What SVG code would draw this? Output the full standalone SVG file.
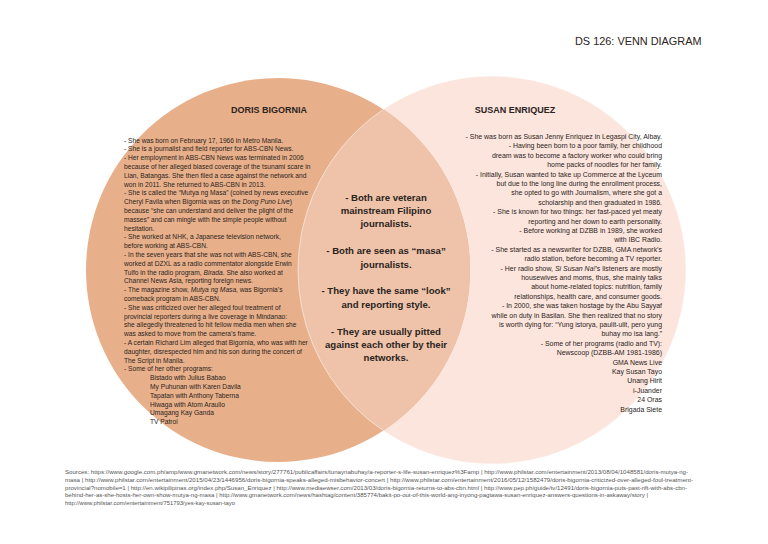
<svg xmlns="http://www.w3.org/2000/svg" width="768" height="544" viewBox="0 0 768 544">
<style>
.t{font-family:"Liberation Sans",Arial,sans-serif;fill:#2b2320}
.l{font-size:6.65px}
.r{font-size:6.95px;text-anchor:end}
.c{font-size:9.6px;font-weight:bold;text-anchor:middle}
.h{font-size:9px;font-weight:bold;text-anchor:middle}
.s{font-family:"Liberation Sans",Arial,sans-serif;font-size:5.3px;fill:#555}
.i{font-style:italic}
</style>
<defs>
<clipPath id="clipRight"><circle cx="492" cy="270" r="194"/></clipPath>
</defs>
<rect width="768" height="544" fill="#ffffff"/>
<g id="title"><text class="t" x="575" y="44.5" style="font-size:10.9px">DS 126: VENN DIAGRAM</text></g>
<g id="circle-susan"><circle cx="492" cy="270" r="194" fill="#FBE5DD"/></g>
<g id="circle-doris"><circle cx="278" cy="270" r="192" fill="#E8B08A"/></g>
<g id="overlap"><circle cx="278" cy="270" r="192" fill="#EEC3AA" clip-path="url(#clipRight)"/>
<circle cx="492" cy="270" r="194" fill="none" stroke="#ffffff" stroke-opacity="0.5" stroke-width="1"/></g>
<g id="doris">
<text class="t h" x="269" y="113">DORIS BIGORNIA</text>
<g class="t l">
<text x="124" y="142.5">- She was born on February 17, 1966 in Metro Manila.</text>
<text x="124" y="151.3">- She is a journalist and field reporter for ABS-CBN News.</text>
<text x="124" y="160.1">- Her employment in ABS-CBN News was terminated in 2006</text>
<text x="124" y="168.9">because of her alleged biased coverage of the tsunami scare in</text>
<text x="124" y="177.7">Lian, Batangas. She then filed a case against the network and</text>
<text x="124" y="186.5">won in 2011. She returned to ABS-CBN in 2013.</text>
<text x="124" y="195.3">- She is called the “Mutya ng Masa” (coined by news executive</text>
<text x="124" y="204.1">Cheryl Favila when Bigornia was on the <tspan class="i">Dong Puno Live</tspan>)</text>
<text x="124" y="212.9">because “she can understand and deliver the plight of the</text>
<text x="124" y="221.7">masses” and can mingle with the simple people without</text>
<text x="124" y="230.5">hesitation.</text>
<text x="124" y="239.3">- She worked at NHK, a Japanese television network,</text>
<text x="124" y="248.1">before working at ABS-CBN.</text>
<text x="124" y="256.9">- In the seven years that she was not with ABS-CBN, she</text>
<text x="124" y="265.7">worked at DZXL as a radio commentator alongside Erwin</text>
<text x="124" y="274.5">Tulfo in the radio program, <tspan class="i">Birada</tspan>. She also worked at</text>
<text x="124" y="283.3">Channel News Asia, reporting foreign news.</text>
<text x="124" y="292.1">- The magazine show, <tspan class="i">Mutya ng Masa</tspan>, was Bigornia’s</text>
<text x="124" y="300.9">comeback program in ABS-CBN.</text>
<text x="124" y="309.7">- She was criticized over her alleged foul treatment of</text>
<text x="124" y="318.5">provincial reporters during a live coverage in Mindanao:</text>
<text x="124" y="327.3">she allegedly threatened to hit fellow media men when she</text>
<text x="124" y="336.1">was asked to move from the camera’s frame.</text>
<text x="124" y="344.9">- A certain Richard Lim alleged that Bigornia, who was with her</text>
<text x="124" y="353.7">daughter, disrespected him and his son during the concert of</text>
<text x="124" y="362.5">The Script in Manila.</text>
<text x="124" y="371.3">- Some of her other programs:</text>
<text x="150" y="380.1">Bistado with Julius Babao</text>
<text x="150" y="388.9">My Puhunan with Karen Davila</text>
<text x="150" y="397.7">Tapatan with Anthony Taberna</text>
<text x="150" y="406.5">Hiwaga with Atom Araullo</text>
<text x="150" y="415.3">Umagang Kay Ganda</text>
<text x="150" y="424.1">TV Patrol</text>
</g>
</g>
<g id="susan">
<text class="t h" x="515" y="113">SUSAN ENRIQUEZ</text>
<g class="t r">
<text x="662" y="139">- She was born as Susan Jenny Enriquez in Legaspi City, Albay.</text>
<text x="662" y="148.4">- Having been born to a poor family, her childhood</text>
<text x="662" y="157.8">dream was to become a factory worker who could bring</text>
<text x="662" y="167.2">home packs of noodles for her family.</text>
<text x="662" y="176.6">- Initially, Susan wanted to take up Commerce at the Lyceum</text>
<text x="662" y="186">but due to the long line during the enrollment process,</text>
<text x="662" y="195.4">she opted to go with Journalism, where she got a</text>
<text x="662" y="204.8">scholarship and then graduated in 1986.</text>
<text x="662" y="214.2">- She is known for two things: her fast-paced yet meaty</text>
<text x="662" y="223.6">reporting and her down to earth personality.</text>
<text x="662" y="233">- Before working at DZBB in 1989, she worked</text>
<text x="662" y="242.4">with IBC Radio.</text>
<text x="662" y="251.8">- She started as a newswriter for DZBB, GMA network’s</text>
<text x="662" y="261.2">radio station, before becoming a TV reporter.</text>
<text x="662" y="270.6">- Her radio show, <tspan class="i">Si Susan Na!</tspan>’s listeners are mostly</text>
<text x="662" y="280">housewives and moms, thus, she mainly talks</text>
<text x="662" y="289.4">about home-related topics: nutrition, family</text>
<text x="662" y="298.8">relationships, health care, and consumer goods.</text>
<text x="662" y="308.2">- In 2000, she was taken hostage by the Abu Sayyaf</text>
<text x="662" y="317.6">while on duty in Basilan. She then realized that no story</text>
<text x="662" y="327">is worth dying for: “Yung istorya, paulit-ulit, pero yung</text>
<text x="662" y="336.4">buhay mo isa lang.”</text>
<text x="662" y="345.8">- Some of her programs (radio and TV):</text>
<text x="662" y="355.2">Newscoop (DZBB-AM 1981-1986)</text>
<text x="662" y="364.6">GMA News Live</text>
<text x="662" y="374">Kay Susan Tayo</text>
<text x="662" y="383.4">Unang Hirit</text>
<text x="662" y="392.8">i-Juander</text>
<text x="662" y="402.2">24 Oras</text>
<text x="662" y="411.6">Brigada Siete</text>
</g>
</g>
<g id="both" class="t c">
<text x="386" y="200.5">- Both are veteran</text>
<text x="386" y="213.9">mainstream Filipino</text>
<text x="386" y="227.3">journalists.</text>
<text x="386" y="254.1">- Both are seen as “masa”</text>
<text x="386" y="267.5">journalists.</text>
<text x="386" y="294.3">- They have the same “look”</text>
<text x="386" y="307.7">and reporting style.</text>
<text x="386" y="334.5">- They are usually pitted</text>
<text x="386" y="347.9">against each other by their</text>
<text x="386" y="361.3">networks.</text>
</g>
<g id="sources" class="s">
<text x="65" y="474" textLength="623" lengthAdjust="spacingAndGlyphs">Sources: https://www.google.com.ph/amp/www.gmanetwork.com/news/story/277761/publicaffairs/tunaynabuhay/a-reporter-s-life-susan-enriquez%3Famp | http://www.philstar.com/entertainment/2013/08/04/1048581/doris-mutya-ng-</text>
<text x="65" y="481.8" textLength="628" lengthAdjust="spacingAndGlyphs">masa | http://www.philstar.com/entertainment/2015/04/23/1446956/doris-bigornia-speaks-alleged-misbehavior-concert | http://www.philstar.com/entertainment/2016/05/12/1582479/doris-bigornia-criticized-over-alleged-foul-treatment-</text>
<text x="65" y="489.6" textLength="622" lengthAdjust="spacingAndGlyphs">provincial?nomobile=1 | http://en.wikipilipinas.org/index.php/Susan_Enriquez | http://www.mediaewser.com/2013/03/doris-bigornia-returns-to-abs-cbn.html | http://www.pep.ph/guide/tv/12491/doris-bigornia-puts-past-rift-with-abs-cbn-</text>
<text x="65" y="497.4" textLength="583" lengthAdjust="spacingAndGlyphs">behind-her-as-she-hosts-her-own-show-mutya-ng-masa | http://www.gmanetwork.com/news/hashtag/content/385774/bakit-po-out-of-this-world-ang-inyong-pagtawa-susan-enriquez-answers-questions-in-askaway/story |</text>
<text x="65" y="505.2" textLength="170" lengthAdjust="spacingAndGlyphs">http://www.philstar.com/entertainment/751793/yes-kay-susan-tayo</text>
</g>
</svg>
